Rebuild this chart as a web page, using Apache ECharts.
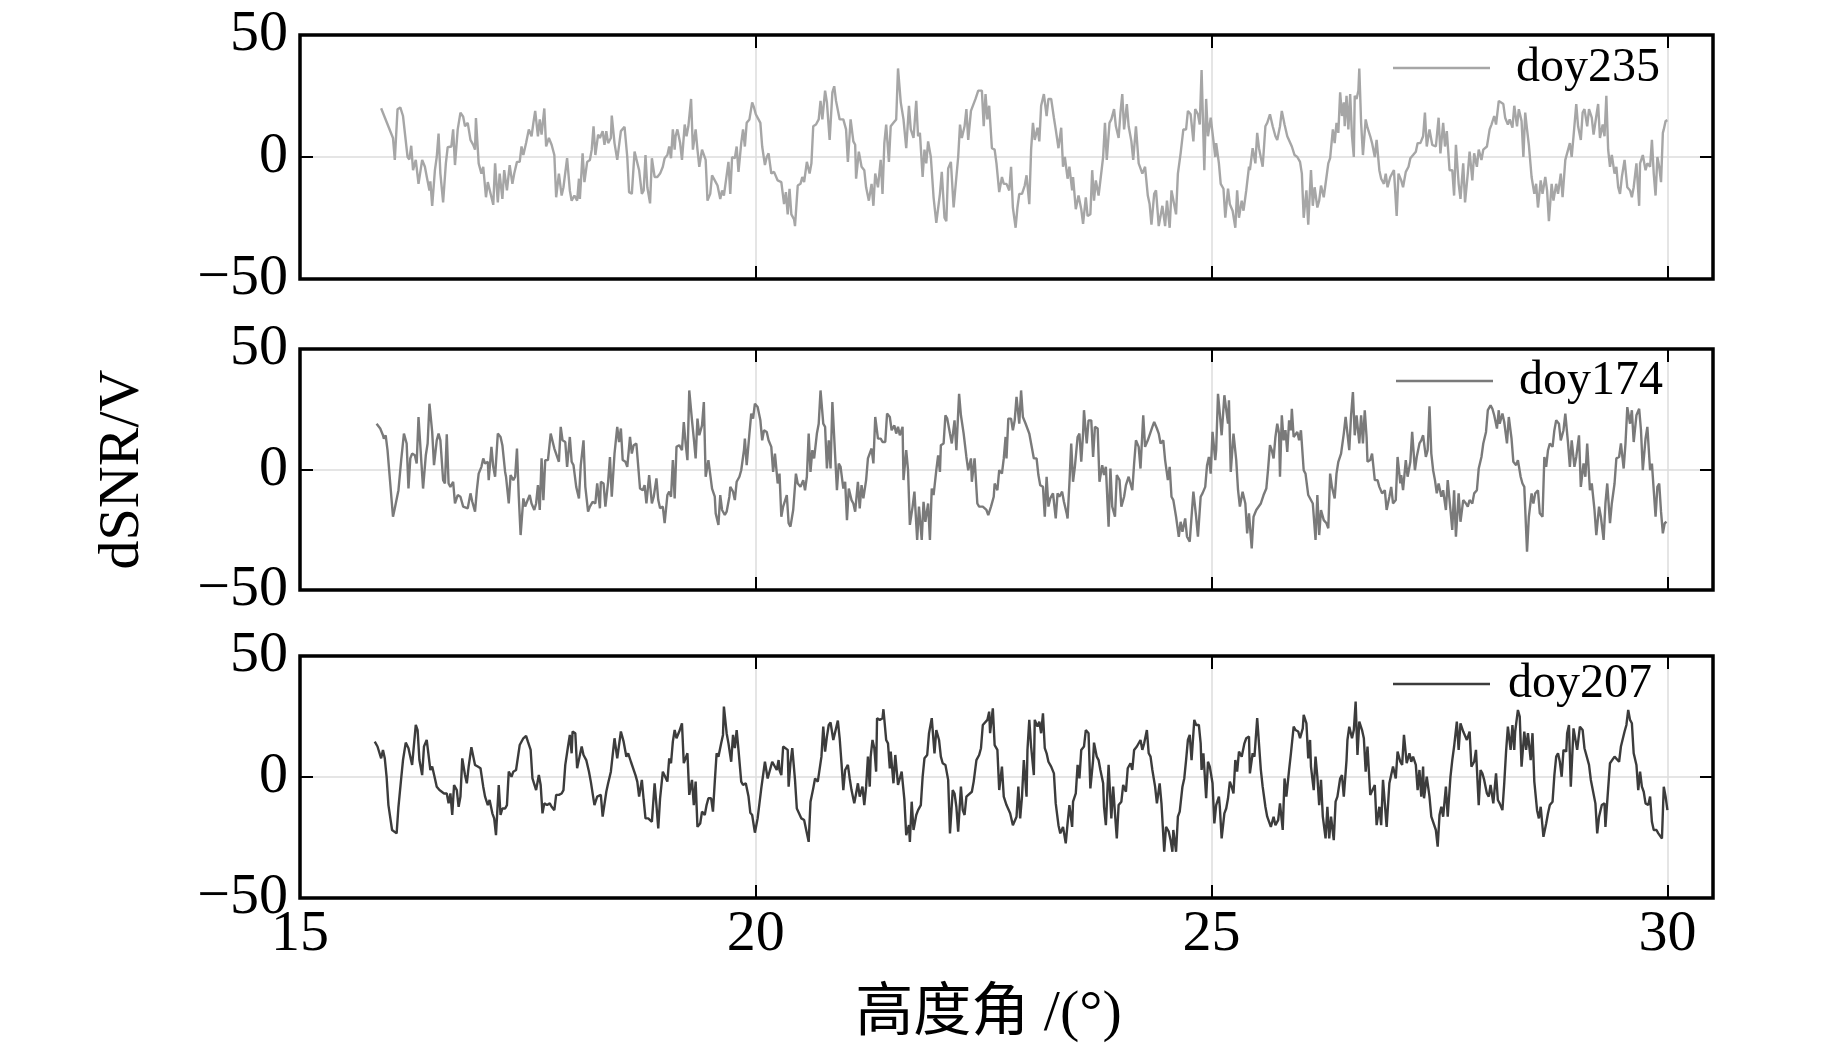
<!DOCTYPE html>
<html>
<head>
<meta charset="utf-8">
<script src="https://cdn.jsdelivr.net/npm/echarts@6/dist/echarts.min.js"></script>
<style>html,body{margin:0;padding:0;background:#fff;}#c{width:1843px;height:1064px;}</style>
</head>
<body>
<div id="c"></div>
<script>
const seriesNames = ['doy235', 'doy174', 'doy207'];
const xTicks = [15, 20, 25, 30];
const yTicks = [-50, 0, 50];

const doy235 = [[15.89,20],[16.02,7.8],[16.04,-1.2],[16.07,19.6],[16.10,20.3],[16.13,16.8],[16.18,0],[16.20,-1],[16.22,4.6],[16.24,-5.4],[16.27,-1.2],[16.30,-11],[16.31,-11.2],[16.34,-1.2],[16.37,-4],[16.39,-8],[16.42,-13.7],[16.43,-10],[16.45,-20],[16.48,-5.4],[16.50,0],[16.52,9.6],[16.54,-6.8],[16.57,-18.6],[16.60,-2.6],[16.62,4],[16.66,4.3],[16.68,11.3],[16.70,-3.3],[16.73,11.3],[16.76,18.2],[16.79,16.5],[16.81,12.6],[16.84,14],[16.87,7],[16.90,5],[16.92,3],[16.93,16],[16.96,-2.6],[16.99,-6.8],[17.01,-4],[17.04,-16.5],[17.06,-10.3],[17.08,-10.3],[17.12,-19.6],[17.14,-2.6],[17.17,-18.6],[17.19,-6.8],[17.22,-17.2],[17.24,-5.4],[17.27,-13.7],[17.30,-3.3],[17.33,-11],[17.35,-6.8],[17.38,-2],[17.41,-2],[17.43,4.3],[17.45,0.8],[17.48,5.7],[17.51,11.3],[17.54,8.5],[17.56,14],[17.58,18.9],[17.61,8.5],[17.63,15.4],[17.65,9.2],[17.68,19.9],[17.70,4.3],[17.73,7.8],[17.76,5],[17.79,0.8],[17.81,-16.5],[17.84,-6.8],[17.87,-15.8],[17.89,-12.4],[17.93,-0.5],[17.96,-13.7],[17.98,-17.9],[18.01,-15.8],[18.04,-17.9],[18.06,-8.9],[18.07,-17.2],[18.10,1.5],[18.12,-10.3],[18.15,-2],[18.18,-1.2],[18.20,3],[18.22,12.6],[18.24,0.8],[18.27,9.2],[18.29,7.8],[18.32,10.6],[18.34,5],[18.36,10.6],[18.38,5.7],[18.41,7.8],[18.42,17],[18.45,5.7],[18.48,-1.2],[18.52,10.6],[18.56,12.4],[18.59,0],[18.61,-14.4],[18.64,-15.1],[18.67,2.2],[18.69,3],[18.72,-5.4],[18.75,-15.1],[18.77,-13.7],[18.79,0.8],[18.81,-12.4],[18.84,-19],[18.86,-0.5],[18.89,-8.2],[18.92,-8.2],[18.95,-6.8],[18.98,-4],[19.00,-0.5],[19.03,0.8],[19.05,4.3],[19.07,-0.5],[19.09,11.3],[19.11,3],[19.12,8.5],[19.14,11.3],[19.17,5.7],[19.19,-1.2],[19.22,13.3],[19.24,8.5],[19.26,12.6],[19.29,23.8],[19.31,3],[19.34,11.3],[19.36,3],[19.38,-4],[19.41,3],[19.45,-1.2],[19.47,-17.9],[19.50,-15.1],[19.52,-7.5],[19.56,-10.3],[19.58,-11.7],[19.61,-17.2],[19.63,-13.7],[19.65,-15.8],[19.68,-7.5],[19.70,-2],[19.72,-15.1],[19.74,0],[19.77,-0.5],[19.79,4.3],[19.81,-6.1],[19.84,5.7],[19.86,11.3],[19.88,4.3],[19.90,14],[19.93,15.4],[19.96,22.4],[19.98,20.3],[20.00,17.5],[20.02,18.2],[20.05,14],[20.07,4.3],[20.10,-3.3],[20.12,0],[20.14,1.5],[20.17,-6.8],[20.20,-6.1],[20.24,-9.6],[20.28,-10.3],[20.31,-19.3],[20.33,-14.4],[20.35,-23.5],[20.37,-13],[20.39,-23.5],[20.42,-25.6],[20.43,-28.3],[20.46,-11.7],[20.49,-11],[20.51,-8.2],[20.53,-10.3],[20.56,-2],[20.59,-6.8],[20.61,-2.6],[20.63,12.6],[20.66,13.3],[20.69,15.4],[20.71,23],[20.73,15.4],[20.76,27.2],[20.78,22.4],[20.81,7],[20.84,26.5],[20.86,29],[20.88,23],[20.92,15.4],[20.96,15.4],[20.99,11.3],[21.01,-2],[21.04,15.4],[21.07,6.4],[21.09,5],[21.10,-8.9],[21.13,2.2],[21.16,-4],[21.19,-5.4],[21.21,-12.4],[21.24,-17.9],[21.27,-11],[21.29,-20],[21.31,-6.8],[21.34,-12.4],[21.37,-1.2],[21.39,-15.1],[21.41,5.7],[21.43,13.3],[21.46,-2],[21.48,12.6],[21.51,14],[21.54,15.4],[21.56,36.3],[21.59,22.4],[21.62,15.4],[21.65,3.6],[21.68,21],[21.70,11.3],[21.73,7.8],[21.76,23],[21.78,8.5],[21.80,9.9],[21.83,-8.2],[21.85,3],[21.87,-2.6],[21.89,6.4],[21.92,0],[21.95,-16.5],[21.98,-27],[22.00,-27],[22.02,-15.1],[22.04,-6.1],[22.07,-24.9],[22.09,-26.3],[22.11,-4.7],[22.14,-2],[22.17,-20.7],[22.20,-8.2],[22.22,0],[22.24,13.3],[22.26,7.8],[22.29,12.6],[22.31,19.6],[22.33,7],[22.36,18.9],[22.38,19.6],[22.41,23.8],[22.44,27.2],[22.46,26.5],[22.48,27.2],[22.50,12.6],[22.52,25.8],[22.54,15.4],[22.56,21],[22.59,3.6],[22.62,3],[22.64,-2.6],[22.67,-14.4],[22.70,-8.2],[22.72,-11],[22.75,-11],[22.78,-13.7],[22.80,-4],[22.82,-20.7],[22.85,-29],[22.87,-20.7],[22.89,-15.1],[22.92,-15.1],[22.95,-11.7],[22.97,-7.5],[23.00,-19.3],[23.02,3],[23.04,14],[23.06,7],[23.09,12],[23.11,6.4],[23.13,21],[23.16,25.8],[23.19,16.8],[23.21,23.8],[23.24,23.8],[23.27,16.1],[23.29,11.3],[23.32,3.6],[23.35,12],[23.37,-4],[23.39,0],[23.42,-8.9],[23.44,-4],[23.47,-13.7],[23.48,-8.2],[23.51,-21.4],[23.54,-15.8],[23.57,-21.4],[23.59,-27.4],[23.62,-16.5],[23.64,-24.2],[23.67,-23.5],[23.69,-5.4],[23.71,-17.9],[23.73,-9.6],[23.76,-15.8],[23.78,-9.6],[23.81,0],[23.83,14],[23.85,-1.2],[23.88,14],[23.90,15.4],[23.93,19.6],[23.95,12.6],[23.98,7.8],[24.00,18.2],[24.02,25.8],[24.04,11.3],[24.07,21.7],[24.09,12.6],[24.12,6.4],[24.14,-1.2],[24.17,12.6],[24.20,-2.6],[24.22,-4.7],[24.24,-6.8],[24.27,-4],[24.30,-15.8],[24.32,-19.3],[24.34,-27.7],[24.37,-15.1],[24.39,-13.7],[24.42,-28.3],[24.44,-29],[24.46,-20],[24.49,-28.3],[24.51,-17.9],[24.54,-29],[24.56,-13.7],[24.58,-13.7],[24.61,-23.5],[24.63,-6.8],[24.66,1.5],[24.69,11.3],[24.72,11.3],[24.74,18.9],[24.77,17.5],[24.80,6.4],[24.82,19.6],[24.85,17.5],[24.87,13.3],[24.89,35.6],[24.92,-5.4],[24.94,23.8],[24.96,8.5],[24.99,16.1],[25.01,9.9],[25.04,0],[25.05,5.7],[25.08,-2.6],[25.10,-11],[25.13,-13],[25.15,-24.9],[25.18,-13],[25.20,-19.3],[25.23,-22],[25.26,-29],[25.28,-13.7],[25.30,-24.9],[25.33,-17.9],[25.35,-22],[25.38,-13.7],[25.41,-4],[25.42,-5.4],[25.45,3.6],[25.48,-2.6],[25.50,9.9],[25.52,3.6],[25.54,4.3],[25.56,-4],[25.59,12.6],[25.61,14],[25.64,17.5],[25.67,12.6],[25.70,8.5],[25.72,7],[25.75,12.6],[25.77,18.9],[25.80,13.3],[25.83,8.5],[25.85,8.5],[25.88,4.3],[25.91,0.8],[25.94,0],[25.97,-2],[25.99,-6.8],[26.01,-24.9],[26.04,-13.7],[26.06,-27.7],[26.09,-5.4],[26.11,-20],[26.13,-12.4],[26.16,-20.7],[26.18,-17.9],[26.20,-11.7],[26.23,-16.5],[26.26,-8.2],[26.28,-2.6],[26.30,-0.5],[26.33,11.3],[26.35,5.7],[26.37,14],[26.39,9.9],[26.41,26.5],[26.43,16.8],[26.45,22.4],[26.46,12.6],[26.48,25.1],[26.50,11.3],[26.52,25.8],[26.54,8.5],[26.56,0],[26.57,25.1],[26.59,23.8],[26.61,27.2],[26.62,36.3],[26.64,14],[26.66,0.8],[26.69,15.4],[26.71,12],[26.74,8.5],[26.76,5.7],[26.79,0],[26.81,7],[26.84,-5.4],[26.86,-8.9],[26.89,-11],[26.91,-6.8],[26.93,-12.4],[26.96,-8.2],[26.98,-8.9],[27.00,-5.4],[27.03,-24.2],[27.05,-6.8],[27.08,-9.6],[27.10,-12.4],[27.13,-6.1],[27.16,-4],[27.18,-0.5],[27.21,0.8],[27.24,2.2],[27.26,5.7],[27.29,5.7],[27.32,8.5],[27.34,18.2],[27.36,4.3],[27.39,11.3],[27.42,5],[27.44,5.7],[27.46,4.3],[27.49,16.1],[27.51,1.5],[27.54,14],[27.56,4.3],[27.58,10.6],[27.61,-5.4],[27.64,-5.4],[27.66,-15.8],[27.68,5],[27.71,-11],[27.73,-17.2],[27.76,-2.6],[27.78,-18.6],[27.81,-6.8],[27.83,2.2],[27.86,-9.6],[27.88,1.5],[27.91,-4],[27.93,3],[27.96,-1.2],[27.98,3],[28.02,4.3],[28.05,11.3],[28.07,13.3],[28.10,16.8],[28.12,13.3],[28.15,23],[28.17,23],[28.20,21.7],[28.22,16.1],[28.25,13.3],[28.27,15.4],[28.30,12],[28.32,21],[28.35,12.6],[28.37,19.6],[28.40,14.7],[28.42,0],[28.44,18.2],[28.46,11.3],[28.48,5],[28.51,-8.2],[28.54,-15.1],[28.56,-11],[28.58,-20.7],[28.61,-9.6],[28.63,-15.1],[28.66,-8.2],[28.68,-13.7],[28.70,-26.3],[28.73,-11],[28.75,-17.9],[28.78,-11],[28.80,-15.1],[28.83,-6.8],[28.85,-16.5],[28.88,-1.2],[28.90,-1.2],[28.93,5.7],[28.95,0],[28.97,8.5],[29.00,21.7],[29.02,12.6],[29.05,7],[29.07,18.2],[29.09,19.6],[29.12,12.6],[29.14,19.6],[29.17,16.1],[29.19,9.2],[29.22,16.8],[29.24,21.7],[29.26,7.8],[29.29,13.3],[29.31,8.5],[29.33,25.1],[29.35,3],[29.37,-4],[29.39,0.8],[29.42,-6.8],[29.44,-4],[29.46,-12.4],[29.48,-15.1],[29.50,-8.2],[29.53,-1.2],[29.56,-12.4],[29.59,-13.7],[29.61,-16.5],[29.63,-12.4],[29.66,-2.6],[29.69,-20],[29.70,-2.6],[29.73,0.8],[29.76,-5.4],[29.78,-2.6],[29.81,-4],[29.83,7],[29.85,-6.8],[29.87,-15.8],[29.89,0],[29.91,-4],[29.93,-10.3],[29.95,9.9],[29.96,11.3],[29.98,14.7],[30.00,15.1]];

const doy174 = [[15.84,19],[15.88,17],[15.91,14.2],[15.92,12.8],[15.94,14.2],[15.96,8],[15.97,7.3],[15.99,-5.8],[16.02,-19.6],[16.04,-16.1],[16.08,-8.6],[16.11,3.9],[16.14,14.9],[16.17,10.8],[16.19,-7.9],[16.21,4.6],[16.23,6.6],[16.26,5.9],[16.28,2.5],[16.30,21.8],[16.33,3.9],[16.35,-7.9],[16.38,5.9],[16.40,10.8],[16.42,27.3],[16.45,15.6],[16.47,1.8],[16.50,12.1],[16.52,14.9],[16.54,12.1],[16.57,-4.4],[16.59,-5.8],[16.61,14.6],[16.63,-5.8],[16.65,-7.2],[16.68,-5.1],[16.70,-14.1],[16.73,-10.6],[16.76,-11.3],[16.79,-15.4],[16.81,-16.1],[16.84,-16.1],[16.87,-9.9],[16.89,-13.4],[16.92,-17.5],[16.94,-8.6],[16.96,-1.7],[16.99,1.1],[17.01,4.6],[17.03,2.5],[17.06,3.2],[17.07,-4.4],[17.10,9.4],[17.12,1.1],[17.14,-3],[17.17,14.9],[17.20,13.5],[17.22,10.1],[17.25,-1],[17.26,-3],[17.29,-14.1],[17.31,-2.3],[17.34,-4.4],[17.36,-3],[17.38,8.7],[17.40,-11.3],[17.42,-27.2],[17.45,-12],[17.47,-15.4],[17.49,-13.4],[17.52,-10.6],[17.54,-14.1],[17.57,-16.8],[17.59,-14.1],[17.61,-6.5],[17.63,-16.8],[17.65,4.6],[17.67,-12.7],[17.69,3.9],[17.72,3.9],[17.75,14.9],[17.77,14.9],[17.79,8.7],[17.81,8],[17.84,3.2],[17.86,17.7],[17.88,12.1],[17.91,11.4],[17.93,1.1],[17.96,13.5],[17.98,3.2],[18.00,1.8],[18.03,-7.2],[18.06,-12],[18.08,1.8],[18.11,12.1],[18.13,-7.2],[18.16,-17.5],[18.18,-15.4],[18.21,-13.4],[18.24,-14.1],[18.26,-5.8],[18.29,-16.1],[18.30,-5.1],[18.33,-5.8],[18.35,-15.4],[18.38,-5.1],[18.40,5.2],[18.42,-11.3],[18.45,6.6],[18.48,17.7],[18.50,11.4],[18.52,17],[18.54,3.9],[18.57,3.2],[18.59,1.1],[18.62,13.5],[18.64,6.6],[18.66,10.1],[18.69,10.8],[18.71,10.8],[18.73,-7.9],[18.76,-8.6],[18.78,-6.5],[18.80,-14.1],[18.83,-2.3],[18.86,-14.1],[18.88,-11.3],[18.91,-3.7],[18.93,-12.7],[18.95,-16.1],[18.98,-15.4],[19.00,-22.3],[19.03,-10.6],[19.05,-9.2],[19.07,-11.3],[19.09,3.9],[19.11,-12],[19.13,9.4],[19.16,10.1],[19.19,8],[19.21,19.7],[19.23,10.8],[19.25,3.9],[19.27,32.8],[19.30,20.4],[19.32,12.8],[19.34,4.6],[19.36,21.1],[19.38,14.2],[19.41,18.3],[19.43,28],[19.45,-3],[19.48,3.9],[19.50,3.9],[19.52,-7.9],[19.55,-11.3],[19.56,-18.2],[19.59,-23],[19.61,-10.6],[19.63,-16.8],[19.66,-18.9],[19.68,-17.5],[19.71,-11.3],[19.72,-7.2],[19.75,-9.2],[19.77,-12.7],[19.79,-5.1],[19.82,-3],[19.84,-0.3],[19.87,8],[19.88,12.8],[19.90,1.8],[19.93,14.9],[19.95,23.2],[19.97,21.1],[19.99,27.3],[20.02,25.9],[20.05,20.4],[20.07,12.1],[20.09,16.3],[20.12,15.6],[20.14,12.1],[20.17,9.4],[20.19,-1],[20.21,6.6],[20.24,-5.8],[20.26,-1.7],[20.28,-19.6],[20.30,-15.4],[20.34,-10.6],[20.36,-22.3],[20.38,-23.7],[20.41,-16.8],[20.44,-1.7],[20.46,-5.8],[20.49,-7.2],[20.52,-4.4],[20.54,-8.6],[20.56,-3],[20.58,14.9],[20.60,-1],[20.62,8],[20.64,4.6],[20.67,14.9],[20.69,19],[20.71,32.8],[20.74,19],[20.76,17.7],[20.78,0.4],[20.80,12.1],[20.82,0.4],[20.84,28],[20.87,5.9],[20.89,-8.6],[20.91,2.5],[20.93,1.1],[20.96,-7.9],[20.98,-5.1],[21.00,-21],[21.02,-7.9],[21.05,-12.7],[21.07,-14.1],[21.09,-17.5],[21.12,-5.1],[21.14,-16.1],[21.16,-6.5],[21.18,-12],[21.21,-4.4],[21.23,4.6],[21.25,5.2],[21.27,8.7],[21.29,2.5],[21.31,21.8],[21.34,12.8],[21.37,12.8],[21.39,11.4],[21.42,11.4],[21.44,23.2],[21.47,21.8],[21.49,16.3],[21.52,18.3],[21.54,14.9],[21.56,17.7],[21.58,14.2],[21.61,17.7],[21.62,-4.4],[21.65,8],[21.67,-0.3],[21.69,-23],[21.72,-15.4],[21.74,-9.2],[21.77,-29.2],[21.79,-15.4],[21.82,-29.2],[21.84,-13.4],[21.86,-21.7],[21.89,-14.1],[21.91,-29.2],[21.93,-7.9],[21.95,-10.6],[21.98,-0.3],[22.00,5.9],[22.02,-1],[22.03,10.1],[22.06,10.8],[22.08,22.5],[22.10,21.1],[22.13,14.9],[22.15,10.8],[22.18,20.4],[22.20,8],[22.23,31.4],[22.25,22.5],[22.28,14.9],[22.31,5.2],[22.33,-0.3],[22.36,4.6],[22.37,-5.1],[22.40,4.6],[22.43,-14.1],[22.45,-15.4],[22.49,-15.4],[22.53,-16.8],[22.55,-18.9],[22.58,-15.4],[22.61,-11.3],[22.62,-5.8],[22.65,-8.6],[22.67,-0.3],[22.70,-1.7],[22.72,4.6],[22.74,13.5],[22.75,4.6],[22.77,21.1],[22.80,21.1],[22.82,16.3],[22.84,20.4],[22.86,30.1],[22.89,19],[22.91,32.8],[22.93,21.8],[22.96,19],[22.98,19],[23.00,14.9],[23.02,10.8],[23.05,4.6],[23.08,4.6],[23.10,-2.3],[23.12,-6.5],[23.15,-7.2],[23.17,-19.6],[23.19,-3],[23.21,-15.4],[23.23,-12],[23.26,-9.9],[23.29,-20.3],[23.31,-9.9],[23.33,-11.3],[23.36,-9.2],[23.38,-13.4],[23.41,-18.2],[23.42,-20.3],[23.44,-5.8],[23.46,10.8],[23.48,-5.1],[23.50,1.1],[23.53,13.5],[23.55,14.9],[23.57,3.2],[23.59,14.9],[23.60,24.6],[23.63,10.8],[23.65,20.4],[23.68,20.4],[23.70,5.2],[23.72,17.7],[23.75,17],[23.77,-5.1],[23.80,1.8],[23.82,-2.3],[23.84,1.1],[23.87,-23.7],[23.89,0.4],[23.91,-15.4],[23.94,-19.6],[23.96,-2.3],[23.99,-4.4],[24.01,-15.4],[24.04,-11.3],[24.06,-6.5],[24.09,-3],[24.11,-5.8],[24.13,-8.6],[24.15,2.5],[24.17,12.1],[24.20,9.4],[24.22,0.4],[24.25,22.5],[24.27,9.4],[24.30,12.1],[24.32,12.1],[24.35,17.7],[24.37,19.7],[24.40,17],[24.42,14.9],[24.44,10.8],[24.47,12.1],[24.49,3.9],[24.52,-4.4],[24.54,1.1],[24.56,-11.3],[24.58,-12.7],[24.61,-19.6],[24.64,-27.9],[24.66,-21.7],[24.68,-25.8],[24.71,-20.3],[24.73,-27.9],[24.76,-29.9],[24.78,-30.6],[24.80,-9.2],[24.83,-19.6],[24.85,-27.9],[24.88,-11.3],[24.90,-9.9],[24.93,-7.2],[24.95,1.8],[24.97,5.2],[24.99,-1.7],[25.01,15.6],[25.04,3.9],[25.05,8],[25.07,31.4],[25.09,23.2],[25.11,14.2],[25.14,30.8],[25.16,31.4],[25.18,19],[25.19,28.7],[25.21,-1],[25.24,14.9],[25.27,3.9],[25.29,-8.6],[25.31,-15.4],[25.34,-9.2],[25.37,-14.1],[25.39,-26.5],[25.41,-18.2],[25.44,-32.7],[25.46,-19.6],[25.49,-16.8],[25.51,-16.1],[25.54,-14.1],[25.57,-10.6],[25.60,-7.9],[25.62,0.4],[25.64,10.1],[25.66,8],[25.68,4.6],[25.70,13.5],[25.72,19],[25.74,14.9],[25.75,-3],[25.77,22.5],[25.79,12.1],[25.81,16.3],[25.83,7.3],[25.85,20.4],[25.87,16.3],[25.88,25.2],[25.90,13.5],[25.94,15.6],[25.96,12.1],[25.98,16.3],[26.01,-0.3],[26.03,-1.7],[26.06,-10.6],[26.08,-11.3],[26.11,-14.1],[26.14,-29.2],[26.16,-10.6],[26.18,-27.2],[26.20,-16.8],[26.23,-21],[26.26,-22.3],[26.28,-24.4],[26.30,-1.7],[26.32,-7.2],[26.35,-12],[26.37,-1.7],[26.39,3.2],[26.42,6.6],[26.45,14.9],[26.47,21.8],[26.49,14.9],[26.51,8],[26.53,22.5],[26.55,32.1],[26.57,14.2],[26.59,22.5],[26.61,21.8],[26.62,10.8],[26.64,22.5],[26.66,10.8],[26.68,24.6],[26.70,13.5],[26.71,3.2],[26.74,3.9],[26.76,6.6],[26.79,-4.4],[26.82,-4.4],[26.84,-7.2],[26.87,-9.9],[26.90,-8.6],[26.92,-16.8],[26.95,-11.3],[26.97,-7.2],[26.99,-14.1],[27.02,-12.7],[27.04,5.2],[27.07,-5.8],[27.08,-2.3],[27.10,-8.6],[27.13,3.9],[27.15,-3],[27.18,3.2],[27.20,15.6],[27.23,-0.3],[27.25,5.2],[27.28,10.8],[27.30,12.1],[27.32,14.2],[27.35,5.2],[27.37,8],[27.39,26.2],[27.41,6.6],[27.43,-0.3],[27.45,-4.4],[27.47,-9.9],[27.49,-5.8],[27.52,-11.3],[27.54,-8.6],[27.57,-16.8],[27.59,-4.4],[27.62,-16.8],[27.64,-25.1],[27.66,-8.6],[27.68,-27.9],[27.71,-9.9],[27.73,-21.7],[27.76,-12.7],[27.79,-14.1],[27.81,-15.4],[27.83,-12.7],[27.86,-14.1],[27.88,-9.9],[27.91,-8.6],[27.93,0.4],[27.96,5.2],[27.98,10.8],[28.01,15.6],[28.03,24.6],[28.06,26.6],[28.08,25.2],[28.10,22.5],[28.13,17],[28.15,24.6],[28.16,19],[28.19,23.2],[28.21,19.7],[28.24,10.8],[28.26,21.8],[28.29,12.8],[28.31,3.2],[28.34,1.8],[28.36,3.9],[28.39,-3],[28.41,-5.8],[28.43,-7.2],[28.46,-34.1],[28.48,-19.6],[28.51,-9.9],[28.53,-14.1],[28.55,-9.9],[28.58,-8.6],[28.60,-18.2],[28.63,-19.6],[28.65,5.2],[28.67,1.1],[28.69,8],[28.71,10.8],[28.74,9.4],[28.76,16.3],[28.78,20.4],[28.81,19],[28.83,12.1],[28.86,16.3],[28.88,23.2],[28.91,10.8],[28.93,1.1],[28.95,12.1],[28.98,1.1],[29.00,5.2],[29.03,14.2],[29.05,-7.2],[29.08,2.5],[29.10,-3],[29.12,10.8],[29.15,-8.6],[29.17,-5.8],[29.20,-16.8],[29.22,-27.2],[29.25,-15.4],[29.27,-19.6],[29.30,-29.2],[29.32,-14.1],[29.34,-5.8],[29.37,-22.3],[29.39,-14.1],[29.42,-5.8],[29.44,4.6],[29.47,5.2],[29.49,10.8],[29.52,0.4],[29.54,10.8],[29.56,25.9],[29.59,19],[29.61,24.6],[29.63,11.4],[29.66,22.5],[29.69,25.2],[29.71,16.3],[29.73,-0.3],[29.76,12.8],[29.78,17.7],[29.81,-0.3],[29.83,2.5],[29.85,-8.6],[29.87,-19.6],[29.89,-7.2],[29.91,-5.8],[29.93,-17.5],[29.95,-26.5],[29.97,-22.3],[29.99,-21.7]];

const doy207 = [[15.82,14.6],[15.85,12.6],[15.87,12.6],[15.89,7.7],[15.91,11.2],[15.93,7.7],[15.95,0.1],[15.97,-11.6],[15.99,-12.3],[16.01,-21.9],[16.03,-21.2],[16.06,-23.3],[16.08,-12.3],[16.11,-0.6],[16.13,7],[16.16,14.2],[16.19,11.9],[16.21,8.4],[16.23,5],[16.25,5],[16.27,21.5],[16.29,19.4],[16.31,7],[16.34,0.8],[16.36,12.6],[16.39,15.3],[16.41,15.3],[16.43,2.9],[16.45,4.3],[16.48,-0.6],[16.50,-4],[16.53,-5.4],[16.55,-4.7],[16.58,-6.8],[16.61,-6.8],[16.63,-10.9],[16.65,-6.8],[16.67,-15.7],[16.69,-3.3],[16.72,-5.4],[16.74,-12.3],[16.76,-8.1],[16.78,7.7],[16.81,0.8],[16.83,-2.6],[16.85,4.3],[16.88,12.3],[16.90,12.3],[16.92,5],[16.95,4.3],[16.98,3.6],[17.01,-4],[17.03,-8.1],[17.06,-11.6],[17.08,-9.5],[17.11,-15],[17.13,-17.1],[17.15,-24],[17.18,-3.3],[17.20,-15.7],[17.22,-13],[17.25,-13],[17.27,-11.6],[17.29,2.2],[17.32,0.1],[17.34,2.2],[17.37,2.9],[17.38,2.9],[17.41,13.2],[17.43,12.6],[17.45,16],[17.48,17],[17.50,14.6],[17.53,11.2],[17.55,-0.6],[17.57,0.1],[17.59,-5.4],[17.62,0.8],[17.64,-3.3],[17.66,-15],[17.68,-10.9],[17.71,-11.6],[17.74,-10.9],[17.76,-12.3],[17.79,-13.7],[17.81,-7.4],[17.84,-7.4],[17.87,-6.8],[17.89,-5.4],[17.91,5],[17.94,12.6],[17.96,17.4],[17.98,9.8],[17.99,18.8],[18.02,18.1],[18.04,3.6],[18.06,2.9],[18.09,12.6],[18.11,9.1],[18.14,7],[18.17,2.2],[18.19,-1.9],[18.21,-1.9],[18.23,-11.6],[18.26,-8.1],[18.28,-8.8],[18.30,-7.4],[18.32,-16.4],[18.34,-15.7],[18.36,-6.1],[18.38,-2.6],[18.41,2.2],[18.43,2.9],[18.45,16],[18.48,7.7],[18.50,7],[18.52,18.8],[18.55,14.6],[18.58,8.4],[18.60,9.8],[18.63,6.3],[18.65,5.7],[18.68,0.8],[18.70,-1.9],[18.72,-8.1],[18.75,-1.2],[18.77,-9.5],[18.79,-17.1],[18.82,-17.1],[18.84,-17.1],[18.86,-18.5],[18.89,-2.6],[18.91,-11.6],[18.93,-21.2],[18.95,-8.8],[18.98,2.2],[19.00,1.5],[19.03,-1.9],[19.05,7.7],[19.07,5.7],[19.09,14.6],[19.11,19.4],[19.13,16],[19.16,18.8],[19.19,22.2],[19.21,5.7],[19.23,6.3],[19.25,9.8],[19.27,-7.4],[19.30,-1.2],[19.32,-11.6],[19.34,-1.9],[19.36,-20.6],[19.39,-19.2],[19.41,-14.3],[19.44,-15.7],[19.46,-11.6],[19.48,-8.8],[19.51,-8.8],[19.53,-14.3],[19.55,-1.9],[19.57,9.8],[19.59,8.4],[19.62,13.9],[19.64,17.4],[19.65,29.1],[19.68,18.1],[19.70,13.9],[19.73,6.3],[19.75,17.4],[19.77,11.9],[19.79,19.4],[19.81,11.2],[19.84,-1.9],[19.86,-3.3],[19.89,-2.6],[19.92,-8.1],[19.94,-14.8],[19.96,-15.7],[19.99,-23],[20.02,-17.1],[20.04,-16.4],[20.06,-4.7],[20.08,-4.7],[20.10,6.3],[20.13,-0.6],[20.15,0.1],[20.18,6.3],[20.20,7],[20.23,2.9],[20.25,7],[20.26,2.9],[20.28,0.8],[20.30,12.6],[20.32,12.6],[20.35,11.2],[20.36,-4],[20.38,5.7],[20.40,11.9],[20.43,-1.2],[20.45,-13],[20.47,-13.7],[20.50,-17.1],[20.53,-17.8],[20.55,-18.5],[20.58,-26.8],[20.60,-10.2],[20.63,-4.7],[20.65,-0.6],[20.68,-1.9],[20.70,-2.6],[20.72,8.4],[20.74,20.8],[20.76,10.5],[20.78,16.7],[20.80,21.5],[20.82,22.5],[20.85,15.3],[20.87,15.3],[20.90,23.3],[20.92,16],[20.94,5.7],[20.96,-5.4],[20.98,2.9],[21.01,5],[21.03,-0.6],[21.05,-5.4],[21.08,-10.9],[21.10,-6.8],[21.12,-2.6],[21.14,-8.1],[21.17,-4],[21.19,-11.6],[21.21,-4],[21.23,8.4],[21.25,-4],[21.26,8.4],[21.28,15.3],[21.30,11.9],[21.32,2.2],[21.33,24.3],[21.36,23.6],[21.39,24.3],[21.40,28],[21.43,15.3],[21.45,13.9],[21.47,3.6],[21.48,10.5],[21.51,-2.6],[21.53,9.1],[21.56,-3.3],[21.58,-2.6],[21.60,2.2],[21.63,-9.5],[21.65,-24],[21.68,-19.9],[21.69,-26.8],[21.71,-10.2],[21.73,-21.9],[21.76,-15.7],[21.78,-13.7],[21.81,-11.6],[21.83,0.1],[21.85,7.7],[21.88,9.1],[21.90,18.1],[21.92,18.8],[21.93,24.3],[21.96,9.8],[21.98,19.4],[22.01,15.3],[22.03,8.4],[22.05,5.7],[22.08,5],[22.11,-1.2],[22.13,-23.3],[22.16,-5.4],[22.18,-6.8],[22.20,-12.3],[22.22,-22.6],[22.25,-4],[22.27,-13.7],[22.29,-15.7],[22.31,-8.1],[22.33,-7.4],[22.37,-6.1],[22.39,-1.9],[22.42,7],[22.45,9.1],[22.47,11.9],[22.49,21.5],[22.51,21.5],[22.54,23.6],[22.56,27],[22.57,18.1],[22.60,28.4],[22.62,13.2],[22.65,11.2],[22.67,-5.4],[22.70,4.3],[22.72,-8.1],[22.75,-11.6],[22.77,-12.3],[22.79,-15],[22.82,-19.9],[22.84,-19.9],[22.86,-16.4],[22.88,-4],[22.90,-17.1],[22.92,-8.1],[22.94,7],[22.97,-8.1],[22.98,11.2],[23.00,23.6],[23.02,12.6],[23.05,0.8],[23.06,23.6],[23.09,20.8],[23.11,22.9],[23.13,18.1],[23.15,26.3],[23.17,11.9],[23.19,9.8],[23.21,6.3],[23.24,4.3],[23.27,1.5],[23.29,-10.9],[23.32,-19.9],[23.34,-23.3],[23.37,-20.6],[23.40,-27.4],[23.42,-19.2],[23.44,-11.6],[23.47,-20.6],[23.48,-10.2],[23.51,-6.8],[23.53,5],[23.55,-0.6],[23.57,11.2],[23.60,12.6],[23.62,19.4],[23.65,18.1],[23.67,-4.7],[23.70,7],[23.71,14.2],[23.74,8.4],[23.76,7],[23.78,2.9],[23.81,-2.6],[23.82,-12.3],[23.84,-19.9],[23.87,5],[23.90,-17.1],[23.92,-4],[23.94,-15],[23.96,-25.4],[23.98,-11.6],[24.01,-10.2],[24.03,-3.3],[24.06,-6.1],[24.08,3.6],[24.11,5.7],[24.13,2.9],[24.15,11.2],[24.18,12.6],[24.20,13.2],[24.22,15.3],[24.24,11.2],[24.26,13.9],[24.29,19.4],[24.31,9.8],[24.33,8.4],[24.35,2.9],[24.38,-4],[24.40,-10.9],[24.43,-2.6],[24.45,-10.9],[24.48,-30.9],[24.50,-20.6],[24.53,-22.6],[24.55,-26.1],[24.57,-30.9],[24.58,-21.9],[24.61,-30.9],[24.63,-16.4],[24.65,-14.3],[24.68,-4],[24.70,-0.6],[24.72,7],[24.74,15.3],[24.76,17.4],[24.78,7],[24.81,23.6],[24.83,21.5],[24.86,21.5],[24.88,13.9],[24.89,2.9],[24.91,9.8],[24.94,-8.8],[24.96,6.3],[24.98,4.3],[25.01,-2.6],[25.03,-19.2],[25.05,-11.6],[25.08,-8.1],[25.09,-12.3],[25.11,-25.4],[25.14,-15],[25.16,-13],[25.18,-8.8],[25.20,-1.9],[25.22,-4],[25.24,-6.8],[25.26,7],[25.28,2.2],[25.30,10.5],[25.33,8.4],[25.36,13.9],[25.38,16],[25.41,16.7],[25.42,1.5],[25.45,9.8],[25.47,8.4],[25.50,24.3],[25.54,2.9],[25.56,-4],[25.59,-12.3],[25.61,-16.4],[25.63,-17.1],[25.65,-20.6],[25.68,-16.4],[25.70,-19.9],[25.73,-17.8],[25.75,-10.9],[25.78,-21.9],[25.80,-0.6],[25.82,-8.1],[25.85,2.9],[25.87,9.8],[25.90,20.8],[25.92,19.4],[25.95,18.8],[25.97,16],[26.00,20.1],[26.01,25.7],[26.04,22.2],[26.06,7.7],[26.08,15.3],[26.09,4.3],[26.12,-5.4],[26.14,8.4],[26.16,0.1],[26.18,-11.6],[26.20,-1.2],[26.22,-16.4],[26.25,-25.4],[26.27,-12.3],[26.29,-25.4],[26.31,-16.4],[26.34,-26.1],[26.36,-10.2],[26.38,-8.1],[26.41,-0.6],[26.43,0.8],[26.45,-8.1],[26.48,7],[26.49,15.3],[26.51,20.8],[26.54,16],[26.56,19.4],[26.58,31.2],[26.60,9.1],[26.62,22.9],[26.65,19.4],[26.67,16],[26.69,2.2],[26.71,12.6],[26.74,-7.4],[26.76,-8.1],[26.79,-3.3],[26.81,-19.9],[26.84,-12.3],[26.86,-19.9],[26.88,-1.2],[26.89,-0.6],[26.92,-20.6],[26.95,-2.6],[26.97,-1.9],[26.99,4.3],[27.02,-0.6],[27.04,10.5],[27.07,6.3],[27.09,5],[27.11,17.4],[27.14,5.7],[27.17,9.8],[27.19,6.3],[27.21,8.4],[27.24,5],[27.26,-5.4],[27.28,2.9],[27.30,-8.1],[27.32,4.3],[27.33,-8.8],[27.36,0.1],[27.39,-8.1],[27.41,-16.4],[27.43,-17.1],[27.46,-21.9],[27.48,-28.8],[27.50,-15.7],[27.52,-12.3],[27.54,-16.4],[27.57,-4],[27.59,-16.4],[27.62,0.1],[27.64,7],[27.66,12.6],[27.69,22.9],[27.71,11.2],[27.73,22.2],[27.76,18.8],[27.78,19.4],[27.80,15.3],[27.83,18.8],[27.85,4.3],[27.88,6.3],[27.90,11.2],[27.93,-11.6],[27.95,2.9],[27.97,1.5],[27.99,-1.2],[28.02,-6.8],[28.04,-8.1],[28.06,-3.3],[28.09,-10.9],[28.12,1.5],[28.14,-9.5],[28.16,-10.9],[28.19,-13.7],[28.21,-2.6],[28.23,10.5],[28.25,20.8],[28.28,11.2],[28.30,21.5],[28.32,11.2],[28.33,18.8],[28.36,27.7],[28.38,25],[28.40,4.3],[28.43,18.8],[28.45,11.2],[28.47,18.1],[28.50,7],[28.52,18.1],[28.54,-1.9],[28.57,-13.7],[28.59,-17.1],[28.61,-12.3],[28.64,-24.7],[28.67,-19.2],[28.69,-15],[28.71,-11.6],[28.74,-10.2],[28.76,0.8],[28.78,8.4],[28.80,9.8],[28.82,6.3],[28.84,0.1],[28.86,11.2],[28.89,10.5],[28.90,18.1],[28.92,21.5],[28.94,-4],[28.97,20.1],[28.99,19.4],[29.01,11.2],[29.04,20.8],[29.07,19.4],[29.09,11.9],[29.11,11.2],[29.14,5],[29.16,-1.2],[29.18,-1.9],[29.21,-10.9],[29.23,-23.3],[29.25,-16.4],[29.28,-11.6],[29.31,-10.9],[29.32,-20.6],[29.35,-4.7],[29.37,5.7],[29.39,6.3],[29.42,8.4],[29.44,9.1],[29.47,6.3],[29.49,12.6],[29.51,13.2],[29.53,18.8],[29.55,21.5],[29.57,27.7],[29.59,23.6],[29.61,22.2],[29.63,9.8],[29.66,5],[29.68,-5.4],[29.70,2.2],[29.72,-4],[29.74,-6.1],[29.76,-10.9],[29.79,-11.6],[29.81,-8.1],[29.83,-18.5],[29.85,-21.9],[29.88,-21.9],[29.90,-23.3],[29.92,-22.6],[29.94,-25.4],[29.96,-4],[29.98,-8.1],[30.00,-13.7]];

const seriesData = [doy235, doy174, doy207];
const seriesColors = ['#a6a6a6', '#7a7a7a', '#3c3c3c'];

const serif = "'Liberation Serif','Times New Roman',serif";
const gridTops = [35, 349, 656];
const gridHeights = [244, 241, 242];
const legendTops = [44, 357, 660];
const legendLefts = [1393, 1396, 1393];
const legendTextPad = [21, 21, 13];

const chart = echarts.init(document.getElementById('c'), null, {renderer: 'canvas'});

const tick = {inside: true, length: 13, lineStyle: {color: '#000', width: 2}};
const grids = [], xAxes = [], yAxes = [], series = [], legends = [];
const fmtY = v => (v < 0 ? '\u2212' + Math.abs(v) : String(v));
const fmtX = v => (xTicks.indexOf(v) >= 0 ? String(v) : '');

for (let i = 0; i < 3; i++) {
  grids.push({left: 300, right: 130, top: gridTops[i], height: gridHeights[i], show: true,
    borderColor: '#000', borderWidth: 3.5, backgroundColor: 'transparent', z: 10});
  xAxes.push({
    gridIndex: i, type: 'value', min: 15, max: 30.5, interval: 5, position: 'bottom',
    axisLine: {show: false, onZero: false}, axisTick: tick,
    axisLabel: {show: i === 2, formatter: fmtX, fontSize: 58, fontFamily: serif, color: '#000', margin: 8,
      showMaxLabel: false},
    splitLine: {show: true, lineStyle: {color: '#dcdcdc', width: 1.5}},
    name: i === 2 ? '高度角 /(°)' : '', nameLocation: 'middle', nameGap: 88,
    nameTextStyle: {fontSize: 58, fontFamily: "'Liberation Serif','Noto Sans CJK SC',serif", color: '#000', padding: [0, 36, 0, 0]}
  });
  xAxes.push({
    gridIndex: i, type: 'value', min: 15, max: 30.5, interval: 5, position: 'top',
    axisLine: {show: false, onZero: false}, axisTick: tick, axisLabel: {show: false}, splitLine: {show: false}
  });
  yAxes.push({
    gridIndex: i, type: 'value', min: -50, max: 50, interval: 50, position: 'left',
    axisLine: {show: false, onZero: false}, axisTick: tick,
    axisLabel: {formatter: fmtY, fontSize: 58, fontFamily: serif, color: '#000', margin: 12},
    splitLine: {show: true, lineStyle: {color: '#dcdcdc', width: 1.5}},
    name: i === 1 ? 'dSNR/V' : '', nameLocation: 'middle', nameRotate: 90, nameGap: 148,
    nameTextStyle: {fontSize: 58, fontFamily: serif, color: '#000'}
  });
  yAxes.push({
    gridIndex: i, type: 'value', min: -50, max: 50, interval: 50, position: 'right',
    axisLine: {show: false, onZero: false}, axisTick: tick, axisLabel: {show: false}, splitLine: {show: false}
  });
  series.push({
    name: seriesNames[i], type: 'line', xAxisIndex: i * 2, yAxisIndex: i * 2,
    data: seriesData[i], showSymbol: false, symbol: 'none', color: seriesColors[i],
    lineStyle: {color: seriesColors[i], width: 2.4}, animation: false
  });
  legends.push({
    data: [seriesNames[i]], left: legendLefts[i], top: legendTops[i], padding: 0,
    icon: 'rect', itemWidth: 97, itemHeight: 2.4,
    textStyle: {fontSize: 48, fontFamily: serif, color: '#000', padding: [0, 0, 0, legendTextPad[i]]}
  });
}

chart.setOption({
  backgroundColor: '#fff',
  animation: false,
  grid: grids, xAxis: xAxes, yAxis: yAxes, series: series, legend: legends
});
</script>
</body>
</html>
